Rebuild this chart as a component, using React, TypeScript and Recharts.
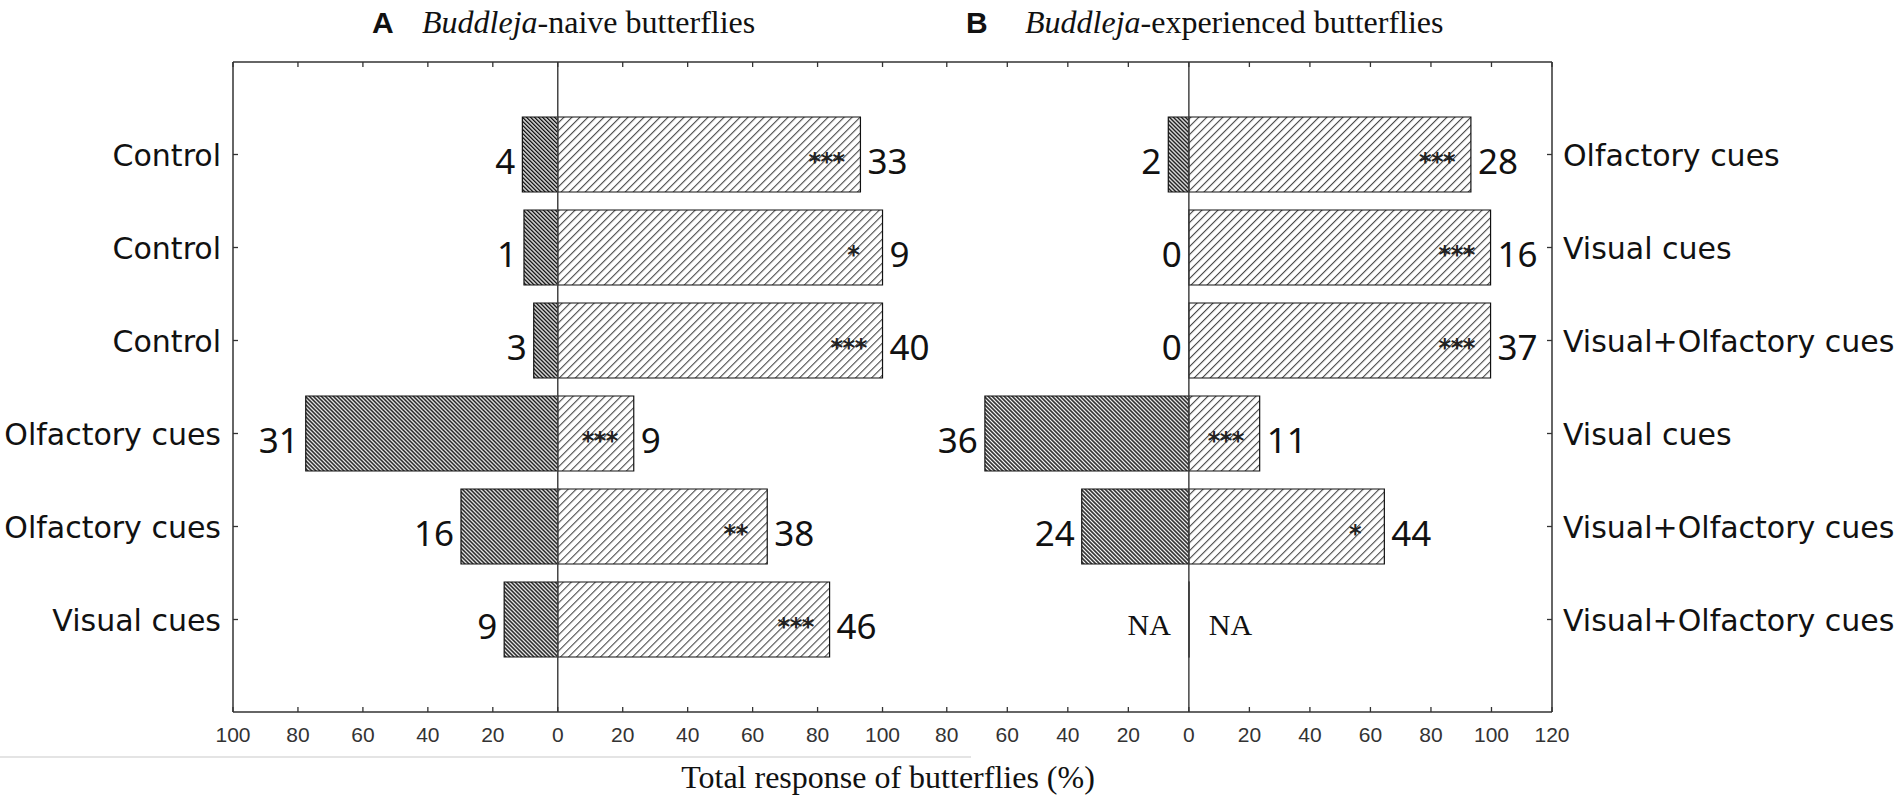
import React from 'react';
import { BarChart, Bar, XAxis, YAxis, ReferenceLine, LabelList } from 'recharts';

// rows from top to bottom
const rows = ['r1', 'r2', 'r3', 'r4', 'r5', 'r6'];

// A: Buddleja-naive butterflies (left stimulus labels)
const naiveLabels = ['Control', 'Control', 'Control', 'Olfactory cues', 'Olfactory cues', 'Visual cues'];
const naiveLeftPct = [10.9, 10.4, 7.4, 77.6, 29.8, 16.5];
const naiveRightPct = [93.2, 100, 100, 23.4, 64.5, 83.7];
const naiveLeftN = ['4', '1', '3', '31', '16', '9'];
const naiveRightN = ['33', '9', '40', '9', '38', '46'];
const naiveStars = ['***', '*', '***', '***', '**', '***'];

// B: Buddleja-experienced butterflies (right stimulus labels)
const expLabels = [
  'Olfactory cues',
  'Visual cues',
  'Visual+Olfactory cues',
  'Visual cues',
  'Visual+Olfactory cues',
  'Visual+Olfactory cues',
];
const expLeftPct = [6.8, 0, 0, 67.4, 35.4, 0];
const expRightPct = [93.2, 99.7, 99.7, 23.4, 64.6, 0];
const expLeftN = ['2', '0', '0', '36', '24', 'NA'];
const expRightN = ['28', '16', '37', '11', '44', 'NA'];
const expStars = ['***', '***', '***', '***', '*', ''];

const ticksA = [-100, -80, -60, -40, -20, 0, 20, 40, 60, 80, 100];
const ticksB = [-80, -60, -40, -20, 0, 20, 40, 60, 80, 100, 120];

const naiveData = rows.map((row, i) => ({ row, left: -naiveLeftPct[i], right: naiveRightPct[i] }));
const expData = rows.map((row, i) => ({ row, left: -expLeftPct[i], right: expRightPct[i] }));

const sans = '"DejaVu Sans", Verdana, sans-serif';
const numFont = '"Noto Sans", "Open Sans", sans-serif';
const serif = '"Liberation Serif", "Times New Roman", serif';
const arial = '"Liberation Sans", Arial, sans-serif';
const frame = '#333';

const BottomTick = (props: any) => {
  const { x, y, payload } = props;
  return (
    <g>
      <line x1={x} y1={y - 5} x2={x} y2={y} stroke={frame} strokeWidth={1.3} />
      <text x={x} y={y + 30} textAnchor="middle" fontFamily={arial} fontSize={21} fill="#333">
        {Math.abs(payload.value)}
      </text>
    </g>
  );
};

const TopTick = (props: any) => {
  const { x, y } = props;
  return <line x1={x} y1={y} x2={x} y2={y + 5} stroke={frame} strokeWidth={1.3} />;
};

const makeLeftTick = (labels: string[]) => (props: any) => {
  const { x, y, index } = props;
  return (
    <g>
      <line x1={x} y1={y} x2={x + 5} y2={y} stroke={frame} strokeWidth={1.3} />
      <text x={x - 12} y={y + 11} textAnchor="end" fontFamily={sans} fontSize={30} fill="#111">
        {labels[index]}
      </text>
    </g>
  );
};

const makeRightTick = (labels: string[]) => (props: any) => {
  const { x, y, index } = props;
  return (
    <g>
      <line x1={x - 5} y1={y} x2={x} y2={y} stroke={frame} strokeWidth={1.3} />
      <text x={x + 11} y={y + 11} textAnchor="start" fontFamily={sans} fontSize={30} fill="#111">
        {labels[index]}
      </text>
    </g>
  );
};

const box = (props: any) => {
  const vb = props.viewBox && props.viewBox.width !== undefined ? props.viewBox : props;
  return { x: Number(vb.x), y: Number(vb.y), width: Number(vb.width), height: Number(vb.height) };
};

// which row a label belongs to (value is the row id)
const rowOf = (props: any) => {
  const i = rows.indexOf(props.value);
  return i >= 0 ? i : props.index;
};

const makeCount = (counts: string[], side: 'left' | 'right') => (props: any) => {
  const { x, y, width, height } = box(props);
  const txt = counts[rowOf(props)];
  const cy = y + height / 2;
  if (txt === 'NA') {
    const zero = side === 'left' ? Math.max(x, x + width) : Math.min(x, x + width);
    return side === 'left' ? (
      <text x={zero - 18} y={cy + 15} textAnchor="end" fontFamily={serif} fontSize={30} fill="#111">
        NA
      </text>
    ) : (
      <text x={zero + 20} y={cy + 15} textAnchor="start" fontFamily={serif} fontSize={30} fill="#111">
        NA
      </text>
    );
  }
  if (side === 'left') {
    const edge = Math.min(x, x + width);
    return (
      <text x={edge - 7} y={cy + 19} textAnchor="end" fontFamily={numFont} fontSize={35} fill="#111">
        {txt}
      </text>
    );
  }
  const edge = Math.max(x, x + width);
  return (
    <text x={edge + 7} y={cy + 19} textAnchor="start" fontFamily={numFont} fontSize={35} fill="#111">
      {txt}
    </text>
  );
};

const makeStars = (stars: string[]) => (props: any) => {
  const { x, y, width, height } = box(props);
  const s = stars[rowOf(props)];
  if (!s) return null;
  const edge = Math.max(x, x + width);
  return (
    <text
      x={edge - (27 + 2.3 * s.length)}
      y={y + height / 2 + 15}
      textAnchor="middle"
      fontFamily={sans}
      fontWeight="bold"
      fontSize={24}
      letterSpacing={-0.5}
      fill="#222"
    >
      {s}
    </text>
  );
};

const Hatches = ({ id }: { id: string }) => (
  <defs>
    <pattern id={`dense-${id}`} width={2.83} height={10} patternUnits="userSpaceOnUse" patternTransform="rotate(-45)">
      <rect width={2.83} height={10} fill="#fff" />
      <rect width={1.5} height={10} fill="#111" />
    </pattern>
    <pattern id={`light-${id}`} width={5.66} height={10} patternUnits="userSpaceOnUse" patternTransform="rotate(45)">
      <rect width={5.66} height={10} fill="#fff" />
      <rect width={1.1} height={10} fill="#4a4a4a" />
    </pattern>
  </defs>
);

function Panel(props: {
  id: string;
  data: any[];
  width: number;
  extraRight: number;
  domain: [number, number];
  ticks: number[];
  side: 'left' | 'right';
  labels: string[];
  leftN: string[];
  rightN: string[];
  stars: string[];
}) {
  const { id, data, width, extraRight, domain, ticks, side, labels, leftN, rightN, stars } = props;
  return (
    <BarChart
      layout="vertical"
      width={width}
      height={804}
      data={data}
      stackOffset="sign"
      barSize={75}
      margin={{ top: 52, right: extraRight, bottom: 62, left: 0 }}
    >
      <Hatches id={id} />
      <XAxis
        xAxisId="bottom"
        type="number"
        orientation="bottom"
        domain={domain}
        ticks={ticks}
        allowDataOverflow
        interval={0}
        height={30}
        tickSize={0}
        tickMargin={0}
        tickLine={false}
        tick={<BottomTick />}
        axisLine={{ stroke: frame, strokeWidth: 1.5 }}
      />
      <XAxis
        xAxisId="top"
        type="number"
        orientation="top"
        domain={domain}
        ticks={ticks}
        allowDataOverflow
        interval={0}
        height={10}
        tickSize={0}
        tickMargin={0}
        tickLine={false}
        tick={<TopTick />}
        axisLine={{ stroke: frame, strokeWidth: 1.5 }}
      />
      <YAxis
        type="category"
        dataKey="row"
        orientation={side}
        width={side === 'left' ? 233 : 352}
        padding={{ top: 46, bottom: 46 }}
        interval={0}
        tickSize={0}
        tickMargin={0}
        tickLine={false}
        tick={side === 'left' ? makeLeftTick(labels) : makeRightTick(labels)}
        axisLine={{ stroke: frame, strokeWidth: 1.5 }}
      />
      <Bar
        dataKey="left"
        xAxisId="bottom"
        stackId="s"
        minPointSize={0.01}
        fill={`url(#dense-${id})`}
        stroke="#111"
        strokeWidth={1.2}
        isAnimationActive={false}
      >
        <LabelList dataKey="row" content={makeCount(leftN, 'left')} />
      </Bar>
      <Bar
        dataKey="right"
        xAxisId="bottom"
        stackId="s"
        minPointSize={0.01}
        fill={`url(#light-${id})`}
        stroke="#111"
        strokeWidth={1.2}
        isAnimationActive={false}
      >
        <LabelList dataKey="row" content={makeCount(rightN, 'right')} />
        <LabelList dataKey="row" content={makeStars(stars)} />
      </Bar>
      <ReferenceLine x={0} xAxisId="bottom" stroke="#444" strokeWidth={1.5} />
    </BarChart>
  );
}

export default function App() {
  return (
    <div style={{ position: 'absolute', left: 0, top: 0, width: 1904, height: 804, background: '#fff' }}>
      <div style={{ position: 'absolute', left: 0, top: 0 }}>
        <Panel
          id="a"
          data={naiveData}
          width={1000}
          extraRight={85}
          domain={[-100, 110]}
          ticks={ticksA}
          side="left"
          labels={naiveLabels}
          leftN={naiveLeftN}
          rightN={naiveRightN}
          stars={naiveStars}
        />
      </div>
      <div style={{ position: 'absolute', left: 915, top: 0 }}>
        <Panel
          id="b"
          data={expData}
          width={989}
          extraRight={0}
          domain={[-90.5, 120]}
          ticks={ticksB}
          side="right"
          labels={expLabels}
          leftN={expLeftN}
          rightN={expRightN}
          stars={expStars}
        />
      </div>
      <svg
        width={1904}
        height={804}
        style={{ position: 'absolute', left: 0, top: 0, pointerEvents: 'none' }}
      >
        <line x1={0} y1={757} x2={971} y2={757} stroke="#e4e4e4" strokeWidth={2} />
        <text x={372} y={33} fontFamily={arial} fontWeight="bold" fontSize={30} fill="#111">
          A
        </text>
        <text x={422} y={33} fontFamily={serif} fontSize={32} fill="#111">
          <tspan fontStyle="italic">Buddleja</tspan>-naive butterflies
        </text>
        <text x={966} y={33} fontFamily={arial} fontWeight="bold" fontSize={30} fill="#111">
          B
        </text>
        <text x={1025} y={33} fontFamily={serif} fontSize={32} fill="#111">
          <tspan fontStyle="italic">Buddleja</tspan>-experienced butterflies
        </text>
        <text x={888} y={788} textAnchor="middle" fontFamily={serif} fontSize={32} fill="#111">
          Total response of butterflies (%)
        </text>
      </svg>
    </div>
  );
}
